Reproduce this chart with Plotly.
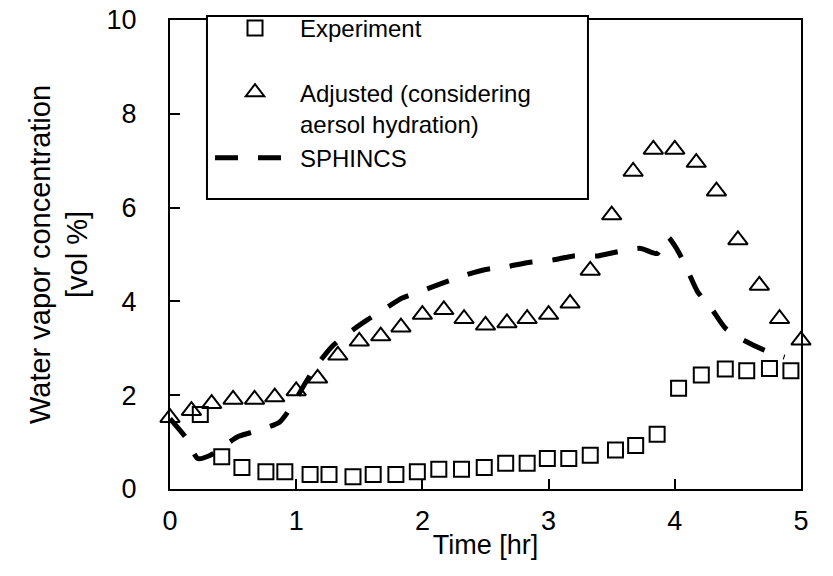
import plotly.graph_objects as go

# Experiment (squares)
exp_t = [0.24, 0.41, 0.57, 0.76, 0.91, 1.11, 1.26, 1.45, 1.61, 1.79, 1.96, 2.13, 2.31, 2.49,
         2.66, 2.83, 2.99, 3.16, 3.33, 3.53, 3.69, 3.86, 4.03, 4.21, 4.40, 4.57, 4.75, 4.92]
exp_v = [1.59, 0.69, 0.46, 0.37, 0.37, 0.31, 0.31, 0.26, 0.31, 0.31, 0.37, 0.42, 0.42, 0.46,
         0.55, 0.55, 0.65, 0.65, 0.72, 0.83, 0.93, 1.17, 2.15, 2.43, 2.56, 2.52, 2.57, 2.52]

# Adjusted (triangles)
adj_t = [0.0, 0.17, 0.33, 0.5, 0.67, 0.83, 1.0, 1.17, 1.33, 1.5, 1.67, 1.83, 2.0, 2.17, 2.33, 2.5,
         2.67, 2.83, 3.0, 3.17, 3.33, 3.5, 3.67, 3.83, 4.0, 4.17, 4.33, 4.5, 4.67, 4.83, 5.0]
adj_v = [1.52, 1.67, 1.82, 1.91, 1.91, 1.96, 2.09, 2.36, 2.85, 3.15, 3.26, 3.45, 3.72, 3.82, 3.63, 3.49,
         3.54, 3.63, 3.72, 3.96, 4.66, 5.84, 6.77, 7.24, 7.24, 6.96, 6.35, 5.31, 4.34, 3.63, 3.17]

# SPHINCS (dashed line)
sph_t = [0.0, 0.13, 0.22, 0.32, 0.54, 0.69, 0.87, 0.97, 1.07, 1.15, 1.28, 1.40, 1.56, 1.69, 1.84,
         2.01, 2.17, 2.34, 2.50, 2.67, 2.84, 3.03, 3.20, 3.39, 3.55, 3.73, 3.86, 3.94, 4.02, 4.10,
         4.18, 4.29, 4.40, 4.54, 4.71, 4.87]
sph_v = [1.50, 1.08, 0.65, 0.72, 1.12, 1.24, 1.43, 1.79, 2.25, 2.59, 3.03, 3.30, 3.60, 3.82, 4.07,
         4.24, 4.40, 4.56, 4.68, 4.74, 4.83, 4.88, 4.97, 4.97, 5.06, 5.13, 5.02, 5.38, 5.10, 4.67,
         4.21, 3.85, 3.43, 3.18, 2.96, 2.81]

x_ticks = [0, 1, 2, 3, 4, 5]
y_ticks = [0, 2, 4, 6, 8, 10]

FONT = "Liberation Sans, Arial, sans-serif"

fig = go.Figure()
fig.add_trace(go.Scatter(
    x=exp_t, y=exp_v, mode="markers", name="Experiment", legendgroup="a",
    marker=dict(symbol="square-open", size=15, color="black", line=dict(width=2, color="black")),
    cliponaxis=False))
fig.add_trace(go.Scatter(
    x=adj_t, y=adj_v, mode="markers", name="Adjusted (considering<br>aersol hydration)", legendgroup="b",
    marker=dict(symbol="triangle-up-open", size=17, color="black", line=dict(width=2, color="black")),
    cliponaxis=False))
fig.add_trace(go.Scatter(
    x=sph_t, y=sph_v, mode="lines", name="SPHINCS", legendgroup="b",
    line=dict(color="black", width=5, dash="23px,20px", shape="spline", smoothing=0.6)))

axis_common = dict(showline=True, linecolor="black", linewidth=2, mirror=True,
                   ticks="inside", ticklen=10, tickwidth=2, tickcolor="black",
                   showgrid=False, zeroline=False, automargin=False,
                   ticklabeloverflow="allow",
                   tickfont=dict(family=FONT, size=27, color="black"))

fig.update_xaxes(range=[0, 5], tickvals=x_ticks, ticktext=[str(v) for v in x_ticks],
                 ticklabelstandoff=7,
                 title=dict(text="Time [hr]", font=dict(family=FONT, size=27, color="black"), standoff=0),
                 **axis_common)
fig.update_yaxes(range=[0, 10], tickvals=y_ticks, ticktext=[str(v) for v in y_ticks],
                 ticklabelstandoff=26,
                 title=dict(text="Water vapor concentration<br>[vol %]",
                            font=dict(family=FONT, size=29, color="black"), standoff=10),
                 **axis_common)

fig.update_layout(
    width=833, height=576,
    margin=dict(l=162, r=40, t=12, b=95, autoexpand=False),
    paper_bgcolor="white", plot_bgcolor="white",
    font=dict(family=FONT, color="black"),
    showlegend=True,
    legend=dict(x=0.0634, y=1.03, xanchor="left", yanchor="top",
                bgcolor="rgba(0,0,0,0)", borderwidth=0,
                font=dict(family=FONT, size=24, color="black"),
                traceorder="grouped", tracegroupgap=30, itemwidth=80, valign="top"),
    shapes=[dict(type="rect", xref="paper", yref="paper",
                 x0=0.0586, x1=0.6624, y0=0.6183, y1=1.0085,
                 line=dict(color="black", width=2), fillcolor="white", layer="above")],
)

fig.write_html("out.html")
